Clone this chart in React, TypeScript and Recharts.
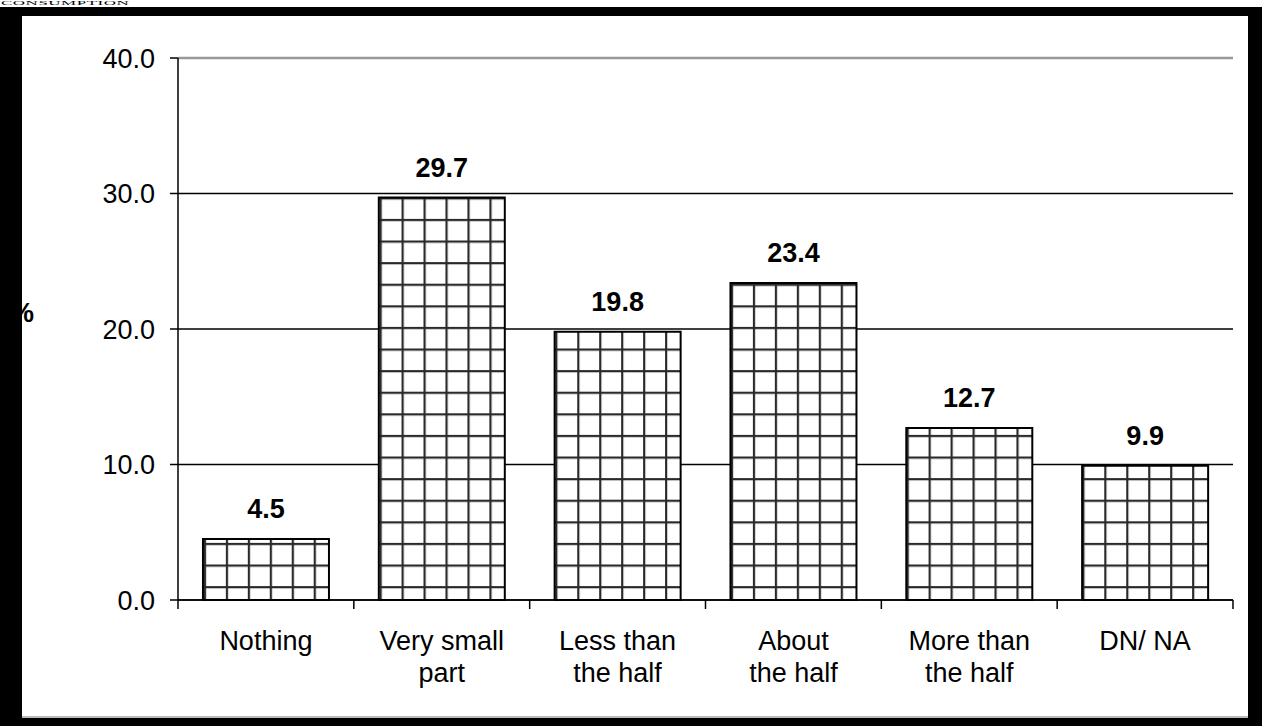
import { BarChart, Bar, XAxis, YAxis, CartesianGrid, LabelList, ReferenceLine } from "recharts"

const categories = [
  "Nothing",
  "Very small\npart",
  "Less than\nthe half",
  "About\nthe half",
  "More than\nthe half",
  "DN/ NA",
]
const shares = [4.5, 29.7, 19.8, 23.4, 12.7, 9.9]
const yTicks = [0, 10, 20, 30, 40]

const data = categories.map((name, i) => ({ name, value: shares[i] }))

const FONT = "'Liberation Sans', Arial, sans-serif"

// Excel-style category tick: mark on the band edges, wrapped label in the middle
function CategoryTick(props: any) {
  const { x, y, payload, index } = props
  const half = payload && payload.offset ? payload.offset : 88
  const lines = String(payload.value).split("\n")
  const isLast = index === categories.length - 1
  return (
    <g>
      <line x1={x - half} y1={y} x2={x - half} y2={y + 9} stroke="#000" strokeWidth={1.5} />
      {isLast && <line x1={x + half} y1={y} x2={x + half} y2={y + 9} stroke="#000" strokeWidth={1.5} />}
      <text x={x} y={y + 50} textAnchor="middle" fontSize={27} fontFamily={FONT} fill="#000">
        {lines.map((l, i) => (
          <tspan key={i} x={x} dy={i === 0 ? 0 : 32}>
            {l}
          </tspan>
        ))}
      </text>
    </g>
  )
}

export default function App() {
  return (
    <div
      style={{
        position: "fixed",
        left: 0,
        top: 0,
        width: 1262,
        height: 726,
        background: "#fff",
        overflow: "hidden",
      }}
    >
      {/* title strip at the very top, squeezed so it stays inside the page */}
      <div
        style={{
          position: "absolute",
          left: 1,
          top: 0,
          fontFamily: "'Liberation Serif', 'Times New Roman', serif",
          fontSize: 17,
          lineHeight: "17px",
          color: "#000",
          letterSpacing: 0.5,
          transform: "scaleY(0.38)",
          transformOrigin: "0 0",
        }}
      >
        CONSUMPTION
      </div>
      <div style={{ position: "absolute", left: 0, top: 7, width: 1262, height: 719, background: "#000" }} />
      <div
        style={{
          position: "absolute",
          left: 22,
          top: 16,
          width: 1226,
          height: 702,
          background: "#fff",
          boxSizing: "border-box",
          borderBottom: "2px solid #bbb",
        }}
      />
      <div style={{ position: "absolute", left: 0, top: 0 }}>
        <BarChart
          width={1262}
          height={726}
          data={data}
          margin={{ top: 58, right: 29, bottom: 16, left: 118 }}
          barCategoryGap="14.2%"
        >
          <defs>
            <pattern id="checks" patternUnits="userSpaceOnUse" x={203.9} y={218.9} width={21.96} height={21.6}>
              <rect x={0} y={0} width={21.96} height={21.6} fill="#fff" />
              <path d="M1.1 0 V21.6 M0 1.1 H21.96" stroke="#2a2a2a" strokeWidth={2.2} />
            </pattern>
          </defs>
          <CartesianGrid vertical={false} stroke="#000" strokeWidth={1.5} />
          <ReferenceLine y={40} stroke="#999" strokeWidth={2.5} />
          <XAxis
            dataKey="name"
            height={110}
            interval={0}
            tickSize={0}
            tickMargin={0}
            tickLine={false}
            axisLine={{ stroke: "#000", strokeWidth: 1.5 }}
            tick={<CategoryTick />}
          />
          <YAxis
            width={60}
            domain={[0, 40]}
            ticks={yTicks}
            tickFormatter={(v: number) => v.toFixed(1)}
            tickSize={8}
            tickMargin={15}
            axisLine={{ stroke: "#000", strokeWidth: 1.5 }}
            tickLine={{ stroke: "#000", strokeWidth: 1.5 }}
            tick={{ fontSize: 27, fontFamily: FONT, fill: "#000" }}
            label={{
              value: "%",
              position: "left",
              offset: 84,
              dy: -17,
              fontSize: 27,
              fontWeight: "bold",
              fontFamily: FONT,
              fill: "#000",
            }}
          />
          <YAxis
            yAxisId="right"
            orientation="right"
            width={0}
            domain={[0, 40]}
            tick={false}
            tickLine={false}
            axisLine={{ stroke: "#999", strokeWidth: 2.5 }}
          />
          <Bar dataKey="value" fill="url(#checks)" stroke="#000" strokeWidth={2} isAnimationActive={false}>
            <LabelList
              dataKey="value"
              position="top"
              offset={21}
              formatter={(v: any) => Number(v).toFixed(1)}
              style={{ fontSize: 27, fontWeight: "bold", fontFamily: FONT, fill: "#000" }}
            />
          </Bar>
        </BarChart>
      </div>
    </div>
  )
}
